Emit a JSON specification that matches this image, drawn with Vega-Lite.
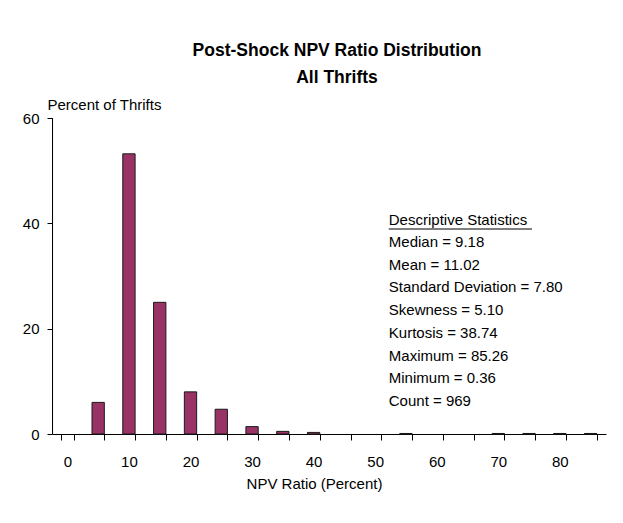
{
  "$schema": "https://vega.github.io/schema/vega-lite/v6.json",
  "width": 554,
  "height": 316,
  "autosize": {"type": "none"},
  "padding": {"left": 52, "top": 118, "right": 17, "bottom": 89},
  "background": "white",
  "config": {
    "font": "Liberation Sans",
    "view": {"stroke": null},
    "axis": {"labelFont": "Liberation Sans", "titleFont": "Liberation Sans", "labelFontSize": 15, "titleFontSize": 15, "titleFontWeight": "normal", "labelColor": "black", "titleColor": "black", "domainColor": "black", "tickColor": "black", "grid": false},
    "axisY": {"domain": true, "domainColor": "#000000", "domainOpacity": 1, "domainWidth": 1, "ticks": true, "tickOpacity": 1, "tickWidth": 1}
  },
  "title": {
    "text": ["Post-Shock NPV Ratio Distribution", "All Thrifts"],
    "font": "Liberation Sans",
    "fontSize": 17.5,
    "fontWeight": "bold",
    "lineHeight": 27,
    "color": "black",
    "anchor": "middle",
    "dx": 8,
    "offset": 11
  },
  "layer": [
    {
      "data": {"values": [
        {"ratio": 0, "percent": 0},
        {"ratio": 5, "percent": 6.0},
        {"ratio": 10, "percent": 53.2},
        {"ratio": 15, "percent": 25.0},
        {"ratio": 20, "percent": 8.0},
        {"ratio": 25, "percent": 4.7},
        {"ratio": 30, "percent": 1.4},
        {"ratio": 35, "percent": 0.5},
        {"ratio": 40, "percent": 0.3},
        {"ratio": 45, "percent": 0},
        {"ratio": 50, "percent": 0},
        {"ratio": 55, "percent": 0.1},
        {"ratio": 60, "percent": 0},
        {"ratio": 65, "percent": 0},
        {"ratio": 70, "percent": 0.1},
        {"ratio": 75, "percent": 0.1},
        {"ratio": 80, "percent": 0.1},
        {"ratio": 85, "percent": 0.1}
      ]},
      "mark": {"type": "bar", "fill": "#993366", "strokeWidth": 1},
      "encoding": {
        "x": {
          "field": "ratio", "type": "ordinal", "sort": "ascending",
          "scale": {"paddingInner": 0.6, "paddingOuter": 0.3},
          "axis": {
            "title": "NPV Ratio (Percent)",
            "labelAngle": 0,
            "labelExpr": "datum.value % 10 === 0 ? datum.label : ''",
            "tickBand": "extent",
            "tickSize": 6,
            "labelPadding": 14,
            "titleX": 262,
            "titleY": 54,
            "titleAlign": "center",
            "titleBaseline": "alphabetic"
          }
        },
        "y": {
          "field": "percent", "type": "quantitative",
          "scale": {"domain": [0, 60], "nice": false},
          "axis": {
            "title": "Percent of Thrifts",
            "values": [0, 20, 40, 60],
            "orient": "left",
            "domain": true,
            "ticks": true,
            "tickSize": 5,
            "labelPadding": 8,
            "titleAngle": 0,
            "titleAlign": "left",
            "titleBaseline": "alphabetic",
            "titleX": -5,
            "titleY": -9
          }
        },
        "stroke": {"condition": {"test": "datum.percent > 0", "value": "#1a1a1a"}, "value": null}
      }
    },
    {
      "data": {"values": [{"axisline": "y"}]},
      "mark": {"type": "rule", "color": "black", "strokeWidth": 1, "xOffset": -8.7},
      "encoding": {
        "x": {"datum": 0, "type": "ordinal", "bandPosition": 0},
        "y": {"datum": 0},
        "y2": {"datum": 60}
      }
    },
    {
      "data": {"values": [{"heading": "Descriptive Statistics"}]},
      "mark": {"type": "text", "align": "left", "baseline": "middle", "fontSize": 15, "font": "Liberation Sans", "color": "black", "xOffset": -11},
      "encoding": {
        "x": {"datum": 55, "type": "ordinal", "bandPosition": 0},
        "y": {"datum": 40.63},
        "text": {"field": "heading"}
      }
    },
    {
      "data": {"values": [{"heading": "Descriptive Statistics"}]},
      "mark": {"type": "rule", "color": "black", "strokeWidth": 1.2, "xOffset": -11, "x2Offset": 3},
      "encoding": {
        "x": {"datum": 55, "type": "ordinal", "bandPosition": 0},
        "x2": {"datum": 75},
        "y": {"datum": 38.92}
      }
    },
    {
      "data": {"values": [
        {"lines": ["Median  = 9.18", "Mean = 11.02", "Standard Deviation = 7.80", "Skewness = 5.10", "Kurtosis = 38.74", "Maximum = 85.26", "Minimum = 0.36", "Count = 969"]}
      ]},
      "mark": {"type": "text", "align": "left", "baseline": "top", "fontSize": 15, "lineHeight": 22.75, "font": "Liberation Sans", "color": "black", "xOffset": -11},
      "encoding": {
        "x": {"datum": 55, "type": "ordinal", "bandPosition": 0},
        "y": {"datum": 37.82},
        "text": {"field": "lines"}
      }
    }
  ]
}
